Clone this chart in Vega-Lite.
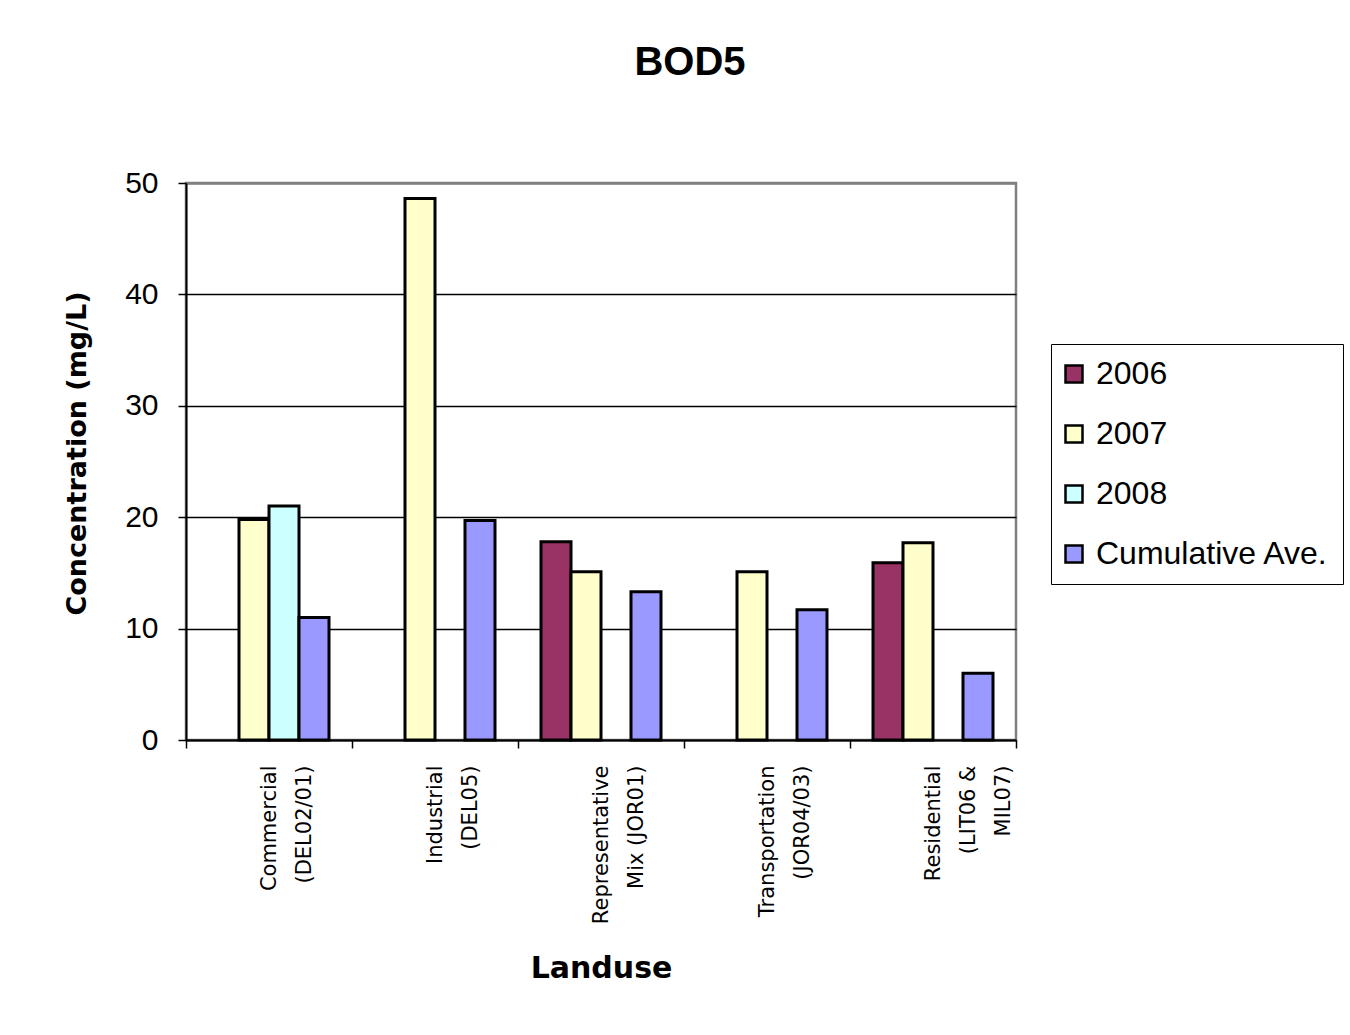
{
  "$schema": "https://vega.github.io/schema/vega-lite/v6.json",
  "width": 830,
  "height": 557,
  "autosize": {"type": "none"},
  "padding": {"left": 186, "top": 183, "right": 334, "bottom": 295},
  "background": "white",
  "title": {
    "text": "BOD5",
    "font": "Liberation Sans",
    "fontSize": 40,
    "fontWeight": "bold",
    "color": "black",
    "anchor": "middle",
    "baseline": "alphabetic",
    "dx": 89,
    "offset": 53
  },
  "data": {
    "values": [
      {"landuse": "Commercial\n(DEL02/01)", "series": "2007", "value": 19.8},
      {"landuse": "Commercial\n(DEL02/01)", "series": "2008", "value": 21.0},
      {"landuse": "Commercial\n(DEL02/01)", "series": "Cumulative Ave.", "value": 11.0},
      {"landuse": "Industrial\n(DEL05)", "series": "2007", "value": 48.6},
      {"landuse": "Industrial\n(DEL05)", "series": "Cumulative Ave.", "value": 19.7},
      {"landuse": "Representative\nMix (JOR01)", "series": "2006", "value": 17.8},
      {"landuse": "Representative\nMix (JOR01)", "series": "2007", "value": 15.1},
      {"landuse": "Representative\nMix (JOR01)", "series": "Cumulative Ave.", "value": 13.3},
      {"landuse": "Transportation\n(JOR04/03)", "series": "2007", "value": 15.1},
      {"landuse": "Transportation\n(JOR04/03)", "series": "Cumulative Ave.", "value": 11.7},
      {"landuse": "Residential\n(LIT06 &\nMIL07)", "series": "2006", "value": 15.9},
      {"landuse": "Residential\n(LIT06 &\nMIL07)", "series": "2007", "value": 17.7},
      {"landuse": "Residential\n(LIT06 &\nMIL07)", "series": "Cumulative Ave.", "value": 6.0}
    ]
  },
  "mark": {"type": "bar", "stroke": "black", "strokeWidth": 3},
  "encoding": {
    "x": {
      "field": "landuse",
      "type": "nominal",
      "sort": null,
      "scale": {
        "domain": [
          "Commercial\n(DEL02/01)",
          "Industrial\n(DEL05)",
          "Representative\nMix (JOR01)",
          "Transportation\n(JOR04/03)",
          "Residential\n(LIT06 &\nMIL07)"
        ],
        "paddingInner": 0,
        "paddingOuter": 0
      },
      "axis": {
        "title": "Landuse",
        "titleFont": "DejaVu Sans",
        "titleFontSize": 30,
        "titleFontWeight": "bold",
        "titleColor": "black",
        "titleBaseline": "alphabetic",
        "titleY": 237,
        "labelExpr": "split(datum.label, '\\n')",
        "labelAngle": -90,
        "labelAlign": "right",
        "labelBaseline": "middle",
        "labelFont": "DejaVu Sans",
        "labelFontSize": 21,
        "labelLineHeight": 35,
        "labelColor": "black",
        "labelPadding": 17,
        "labelLimit": 400,
        "tickBand": "extent",
        "tickSize": 8,
        "tickColor": "black",
        "tickWidth": 1.5,
        "domainColor": "black",
        "domainWidth": 2,
        "grid": false
      }
    },
    "xOffset": {
      "field": "series",
      "type": "nominal",
      "scale": {
        "domain": ["2006", "2007", "2008", "Cumulative Ave."],
        "paddingInner": 0,
        "paddingOuter": 0.7667
      }
    },
    "y": {
      "field": "value",
      "type": "quantitative",
      "scale": {"domain": [0, 50], "nice": false},
      "axis": {
        "title": "Concentration (mg/L)",
        "titleFont": "DejaVu Sans",
        "titleFontSize": 27,
        "titleFontWeight": "bold",
        "titleColor": "black",
        "titleBaseline": "alphabetic",
        "titleAngle": -90,
        "titleX": -101,
        "titleY": 270,
        "values": [0, 10, 20, 30, 40, 50],
        "labelFont": "Liberation Sans",
        "labelFontSize": 30,
        "labelColor": "black",
        "labelPadding": 20,
        "tickSize": 8,
        "tickColor": "black",
        "tickWidth": 1.5,
        "domainColor": "black",
        "domainWidth": 2,
        "grid": true,
        "gridColor": {"condition": {"test": "datum.value == 50", "value": "#808080"}, "value": "black"},
        "gridWidth": {"condition": {"test": "datum.value == 50", "value": 2.5}, "value": 1.5}
      }
    },
    "color": {
      "field": "series",
      "type": "nominal",
      "scale": {
        "domain": ["2006", "2007", "2008", "Cumulative Ave."],
        "range": ["#993366", "#FFFFCC", "#CCFFFF", "#9999FF"]
      },
      "legend": {
        "title": null,
        "orient": "none",
        "legendX": 865,
        "legendY": 161,
        "symbolType": "square",
        "symbolSize": 289,
        "symbolStrokeColor": "black",
        "symbolStrokeWidth": 2.5,
        "symbolOffset": -7,
        "labelFont": "Liberation Sans",
        "labelFontSize": 32,
        "labelColor": "black",
        "labelOffset": 6,
        "labelBaseline": "middle",
        "labelLimit": 400,
        "rowPadding": 28,
        "padding": 14,
        "strokeColor": "black",
        "fillColor": "white"
      }
    }
  },
  "config": {
    "view": {"stroke": "#808080", "strokeWidth": 2.5}
  }
}
